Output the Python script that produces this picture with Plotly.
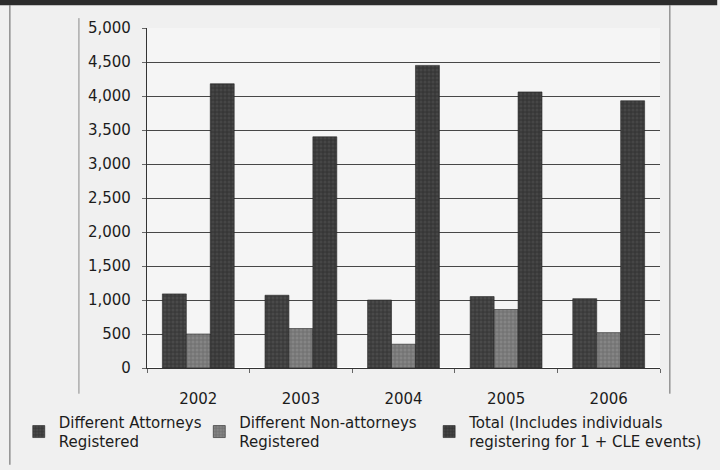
import plotly.graph_objects as go

years = ["2002", "2003", "2004", "2005", "2006"]
attorneys = [1090, 1070, 1000, 1050, 1020]
non_attorneys = [500, 580, 350, 860, 520]
total = [4180, 3400, 4450, 4060, 3930]

series_names = [
    "Different Attorneys<br>Registered",
    "Different Non-attorneys<br>Registered",
    "Total (Includes individuals<br>registering for 1 + CLE events)",
]
colors = ["#3a3a3a", "#747474", "#373737"]
pattern_fg = ["#5a5a5a", "#959595", "#555555"]
legend_ids = ["legend2", "legend3", "legend4"]

# plot area in pixels: x 147..667, y 28..372
L, R, T, B = 147, 667, 28, 372
def px(x):
    return (x - L) / (R - L)
def py(y):
    return (B - y) / (B - T)

fig = go.Figure()
for name, vals, c, pf, lg in zip(series_names, [attorneys, non_attorneys, total],
                                 colors, pattern_fg, legend_ids):
    fig.add_trace(go.Bar(
        x=years, y=vals, name=name, legend=lg,
        marker=dict(color=c, line=dict(color="#252525", width=0.6),
                    pattern=dict(shape=".", fgcolor=pf, size=4, solidity=0.45)),
    ))

legend_font = dict(family="DejaVu Sans", size=15, color="#1c1c1c")
def leg(xp):
    return dict(orientation="h", x=px(xp), y=py(410), xanchor="left", yanchor="top",
                font=legend_font, bgcolor="rgba(0,0,0,0)", itemwidth=30)

fig.update_layout(
    width=720, height=470,
    margin=dict(l=L, r=720 - R, t=T, b=470 - B),
    paper_bgcolor="#f0f0f0",
    plot_bgcolor="#f5f5f5",
    barmode="group",
    bargap=0.30,
    bargroupgap=0,
    showlegend=True,
    font=dict(family="DejaVu Sans", size=15, color="#1c1c1c"),
    legend2=leg(17),
    legend3=leg(200),
    legend4=leg(433),
    xaxis=dict(
        showline=True, linecolor="#333333", linewidth=1.3,
        ticks="outside", tickson="boundaries", ticklen=4, tickcolor="#666666",
        ticklabelstandoff=17,
    ),
    yaxis=dict(
        range=[0, 5000], dtick=500, tickformat=",",
        showgrid=True, gridcolor="#474747", gridwidth=1.1,
        showline=True, linecolor="#333333", linewidth=1.3,
        ticks="outside", ticklen=4, tickcolor="#666666",
        ticklabelstandoff=8,
    ),
    shapes=[
        dict(type="line", xref="paper", yref="paper", x0=px(8), x1=px(8), y0=py(5), y1=py(470),
             line=dict(color="#777777", width=1.2)),
        dict(type="line", xref="paper", yref="paper", x0=px(78), x1=px(78), y0=py(18), y1=py(398),
             line=dict(color="#8a8a8a", width=1)),
        dict(type="line", xref="paper", yref="paper", x0=px(677), x1=px(677), y0=py(5), y1=py(398),
             line=dict(color="#666666", width=1)),
        dict(type="rect", xref="paper", yref="paper", x0=px(-5), x1=px(725), y0=py(5), y1=py(-5),
             line=dict(width=0), fillcolor="#2c2c2c"),
    ],
)

fig.write_html("out.html", config={"displayModeBar": False},
               post_script="document.body.style.margin='0';")
